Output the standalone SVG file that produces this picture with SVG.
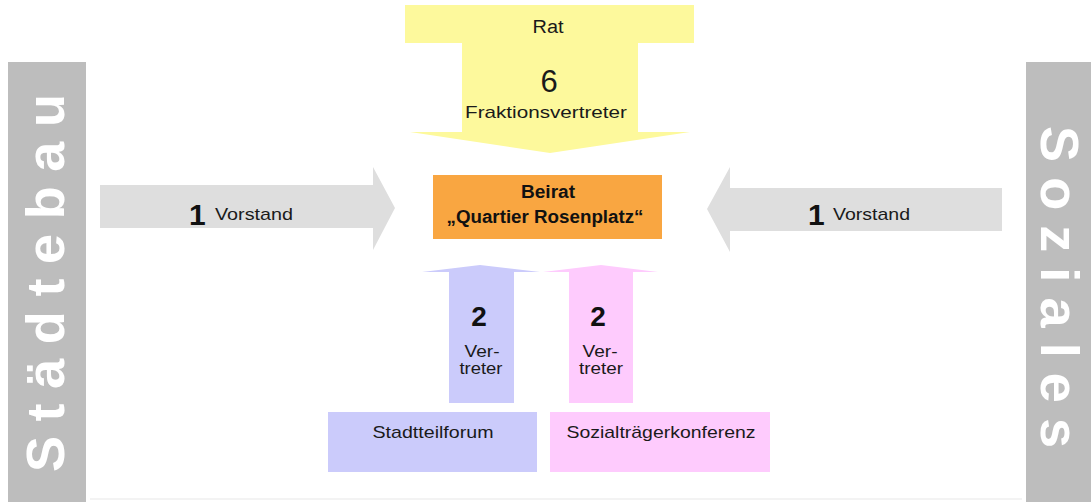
<svg xmlns="http://www.w3.org/2000/svg" width="1091" height="502" viewBox="0 0 1091 502">
<style>
.t{font-family:"Liberation Sans",Arial,sans-serif;fill:#1a1a1a;font-size:17px;}
.n{font-family:"Liberation Sans",Arial,sans-serif;fill:#111;font-weight:bold;}
.side{font-family:"Liberation Sans",Arial,sans-serif;fill:#fff;font-weight:bold;font-size:54px;}
.grey{fill:#bdbdbd;}
.garrow{fill:#dedede;}
.yel{fill:#fdf99c;}
.blue{fill:#cbcbfb;}
.pink{fill:#fecbfd;}
</style>
<rect width="1091" height="502" fill="#fff"/>
<line x1="90" y1="499" x2="1022" y2="499" stroke="#f3f3f3" stroke-width="2"/>

<g id="staedtebau">
<rect class="grey" x="8" y="62" width="78" height="440"/>
<text class="side" transform="translate(45,472) rotate(-90)" dominant-baseline="central" textLength="378" lengthAdjust="spacing">Städtebau</text>
</g>

<g id="soziales">
<rect class="grey" x="1026" y="62" width="65" height="440"/>
<text class="side" transform="translate(1060,126) rotate(90)" dominant-baseline="central" textLength="322" lengthAdjust="spacing">Soziales</text>
</g>

<g id="rat">
<rect class="yel" x="405" y="5" width="289" height="38"/>
<text class="t" x="548" y="33" style="font-size:18px" text-anchor="middle" textLength="31" lengthAdjust="spacingAndGlyphs">Rat</text>
</g>

<g id="beirat">
<rect x="433" y="175" width="229" height="64" fill="#f9a641"/>
<text class="n" x="548" y="198" font-size="18" text-anchor="middle" textLength="54" lengthAdjust="spacingAndGlyphs">Beirat</text>
<text class="n" x="545" y="223" font-size="18" text-anchor="middle" textLength="197" lengthAdjust="spacingAndGlyphs">„Quartier Rosenplatz“</text>
</g>

<g id="stadtteilforum">
<rect class="blue" x="328" y="412" width="209" height="60"/>
<text class="t" x="433" y="438" text-anchor="middle" textLength="121" lengthAdjust="spacingAndGlyphs">Stadtteilforum</text>
</g>

<g id="sozialtraegerkonferenz">
<rect class="pink" x="550" y="412" width="220" height="60"/>
<text class="t" x="661" y="438" text-anchor="middle" textLength="189" lengthAdjust="spacingAndGlyphs">Sozialträgerkonferenz</text>
</g>

<g id="connectors">
<g id="arrow-rat">
<polygon class="yel" points="462,42 638,42 638,132 690,132 550,153 410,132 462,132"/>
<text class="t" x="549" y="92" style="font-size:31px" text-anchor="middle">6</text>
<text class="t" x="546" y="118" text-anchor="middle" textLength="162" lengthAdjust="spacingAndGlyphs">Fraktionsvertreter</text>
</g>
<g id="arrow-staedtebau">
<polygon class="garrow" points="100,185 373,185 373,167 395,208 373,250 373,228 100,228"/>
<text class="n" x="189" y="225" font-size="30">1</text>
<text class="t" x="215" y="220" textLength="78" lengthAdjust="spacingAndGlyphs">Vorstand</text>
</g>
<g id="arrow-soziales">
<polygon class="garrow" points="707,209 730,167 730,188 1002,188 1002,231 730,231 730,252"/>
<text class="n" x="808" y="225" font-size="30">1</text>
<text class="t" x="833" y="220" textLength="77" lengthAdjust="spacingAndGlyphs">Vorstand</text>
</g>
<g id="arrow-stadtteilforum">
<polygon class="blue" points="449,403 449,272 422,272 480,265 540,272 514,272 514,403"/>
<text class="n" x="479" y="326" font-size="28" text-anchor="middle">2</text>
<text class="t" x="482" y="357" text-anchor="middle" textLength="35" lengthAdjust="spacingAndGlyphs">Ver-</text>
<text class="t" x="481" y="374" text-anchor="middle" textLength="43" lengthAdjust="spacingAndGlyphs">treter</text>
</g>
<g id="arrow-sozialtraegerkonferenz">
<polygon class="pink" points="569,403 569,272 543,272 601,265 658,272 633,272 633,403"/>
<text class="n" x="598" y="326" font-size="28" text-anchor="middle">2</text>
<text class="t" x="600" y="357" text-anchor="middle" textLength="35" lengthAdjust="spacingAndGlyphs">Ver-</text>
<text class="t" x="601" y="374" text-anchor="middle" textLength="44" lengthAdjust="spacingAndGlyphs">treter</text>
</g>
</g>
</svg>
